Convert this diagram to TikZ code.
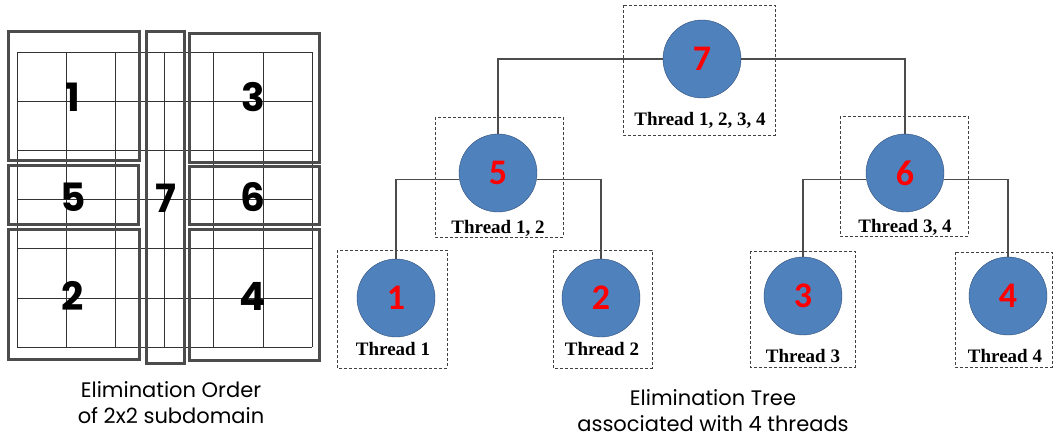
\documentclass[tikz,border=0pt]{standalone}
\usepackage{fontspec}
\setmainfont{Liberation Serif}
\newfontfamily\capfont{Poppins}
\newfontfamily\numfont{Carlito}
\usepackage{xcolor}
\definecolor{elimblue}{HTML}{4F81BD}
\definecolor{elimedge}{HTML}{2F4F78}

\begin{document}
\begin{tikzpicture}[
    x=1pt, y=-1pt,
    cell/.style={draw=black!80, line width=0.8pt},
    block/.style={draw=black!70, line width=3pt},
    order/.style={font=\capfont\bfseries\fontsize{39}{39}\selectfont},
    elim/.style={circle, draw=elimedge, fill=elimblue, minimum size=78pt,
        inner sep=0pt, text=red, font=\numfont\bfseries\fontsize{36}{36}\selectfont},
    thread/.style={anchor=base, font=\bfseries\fontsize{19}{19}\selectfont},
    group/.style={draw=black!75, line width=0.8pt, dash pattern=on 3pt off 2pt},
    link/.style={draw=black!70, line width=1.2pt},
    caption/.style={align=center, font=\capfont\fontsize{21}{26}\selectfont}
]
\useasboundingbox (0,0) rectangle (1053,442);

% Fine mesh of the 2x2 subdomain
\foreach \k in {0,...,6} {
    \draw[cell] (17+49.2*\k,52) -- (17+49.2*\k,347);
    \draw[cell] (17,52+49.2*\k) -- (312,52+49.2*\k);
}

% Subdomain blocks
\draw[block] (8,31) rectangle (139,160);
\draw[block] (8,165) rectangle (138,224);
\draw[block] (8,229) rectangle (139,359);
\draw[block] (146,31) rectangle (184,363);
\draw[block] (189,33) rectangle (319,162);
\draw[block] (189,166) rectangle (319,224);
\draw[block] (189,229) rectangle (319,360);

% Elimination order
\node[order] (o1) at (73,97) {1};
\node[order] (o3) at (253,97) {3};
\node[order] (o5) at (73,197) {5};
\node[order] (o7) at (166,198) {7};
\node[order] (o6) at (253,197) {6};
\node[order] (o2) at (73,296) {2};
\node[order] (o4) at (253,296) {4};

% Thread groups
\draw[group] (623,5) rectangle (775,135);
\draw[group] (435,117) rectangle (563,237);
\draw[group] (840,116) rectangle (968,236);
\draw[group] (337,250) rectangle (447,368);
\draw[group] (553,250) rectangle (652,368);
\draw[group] (750,251) rectangle (855,367);
\draw[group] (955,252) rectangle (1052,367);

% Tree nodes
\node[elim] (n7) at (702,59) {7};
\node[elim] (n5) at (498,173) {5};
\node[elim] (n6) at (905,173) {6};
\node[elim] (n1) at (396,298) {1};
\node[elim] (n2) at (601,298) {2};
\node[elim] (n3) at (803,296) {3};
\node[elim] (n4) at (1008,296) {4};

% Thread labels
\node[thread] (t7) at (700,125) {Thread 1, 2, 3, 4};
\node[thread] (t5) at (498,233) {Thread 1, 2};
\node[thread] (t6) at (905,232) {Thread 3, 4};
\node[thread] (t1) at (393,355) {Thread 1};
\node[thread] (t2) at (602,355) {Thread 2};
\node[thread] (t3) at (803,362) {Thread 3};
\node[thread] (t4) at (1005,362) {Thread 4};

% Edges
\draw[link] (n5.north) |- (n7.west);
\draw[link] (n6.north) |- (n7.east);
\draw[link] (n1.north) |- (n5.190);
\draw[link] (n2.north) |- (n5.-10);
\draw[link] (n3.north) |- (n6.190);
\draw[link] (n4.north) |- (n6.-10);

% Captions
\node[caption] (capL) at (171,403) {Elimination Order\\of 2x2 subdomain};
\node[caption] (capR) at (713,411) {Elimination Tree\\associated with 4 threads};

\end{tikzpicture}
\end{document}
